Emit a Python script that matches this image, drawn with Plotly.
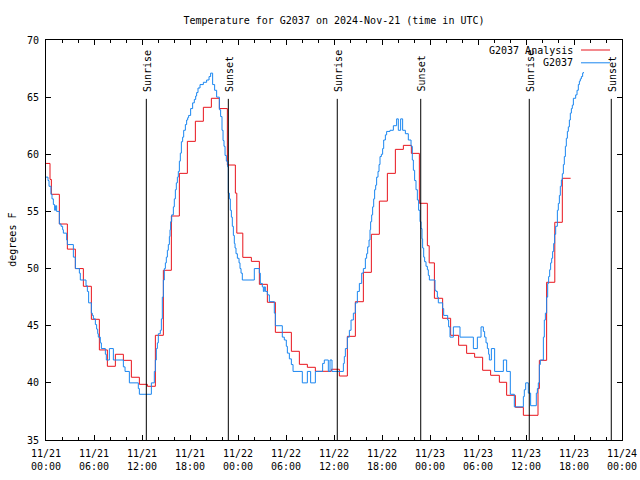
import pandas as pd
import plotly.graph_objects as go

# ---- data (hours since 2024-11-21 00:00 UTC, temperature in deg F) ----
base = pd.Timestamp("2024-11-21 00:00")

obs_hours = [0.0, 0.25, 0.38, 0.62, 0.75, 0.92, 1.08, 1.2, 1.33, 1.67, 1.88, 2.08, 2.17, 2.58, 2.67,
             3.42, 3.67, 4.17, 4.29, 5.0, 5.17, 5.33, 5.67, 5.79, 5.92, 6.17, 6.33, 6.46, 6.54, 6.79,
             6.92, 7.42, 7.54, 7.92, 8.42, 9.67, 9.88, 10.42, 11.54, 11.67, 13.17, 13.54, 13.67, 13.79,
             13.92, 14.04, 14.29, 14.42, 14.54, 14.67, 14.79, 14.92, 15.04, 15.17, 15.29, 15.42, 15.5,
             15.58, 15.71, 15.92, 16.04, 16.17, 16.29, 16.42, 16.54, 16.67, 16.79, 16.92, 17.08, 17.21,
             17.42, 17.58, 17.71, 17.83, 18.08, 18.33, 18.54, 18.71, 18.83, 19.0, 19.25, 19.67, 20.08,
             20.38, 20.58, 20.83, 21.08, 21.33, 21.67, 21.83, 22.0, 22.13, 22.25, 22.38, 22.54, 22.71,
             22.79, 22.92, 23.04, 23.17, 23.29, 23.42, 23.54, 23.63, 23.75, 23.92, 24.13, 24.25, 24.38,
             24.54, 26.04, 26.67, 26.79, 27.04, 27.17, 27.29, 27.42, 27.67, 27.92, 28.54, 28.67, 29.54,
             29.79, 30.04, 30.17, 30.42, 30.67, 30.88, 32.04, 32.67, 33.08, 33.67, 34.58, 34.79, 35.29,
             35.5, 35.75, 37.17, 37.29, 37.42, 37.67, 37.92, 38.13, 38.42, 38.67, 38.92, 39.17, 39.46,
             39.67, 39.92, 40.08, 40.21, 40.38, 40.5, 40.58, 40.71, 40.83, 40.96, 41.08, 41.21, 41.33,
             41.5, 41.63, 41.75, 41.92, 42.08, 42.21, 42.42, 42.58, 43.0, 43.42, 43.83, 44.04, 44.33,
             44.58, 44.92, 45.29, 45.63, 45.79, 45.92, 46.08, 46.25, 46.42, 46.58, 46.75, 46.88, 47.0,
             47.08, 47.21, 47.33, 47.5, 47.67, 47.79, 47.92, 48.63, 48.75, 48.92, 49.04, 49.58, 49.71,
             50.21, 50.33, 50.5, 50.92, 51.75, 53.42, 53.92, 54.38, 54.67, 54.83, 55.0, 55.17, 55.33,
             55.42, 55.67, 56.08, 57.17, 57.58, 58.04, 58.54, 59.67, 59.79, 59.96, 60.29, 60.58, 61.29,
             61.42, 61.54, 61.67, 61.79, 62.17, 62.29, 62.42, 62.58, 62.71, 62.83, 62.96, 63.08, 63.21,
             63.33, 63.46, 63.58, 63.71, 63.92, 64.04, 64.17, 64.29, 64.42, 64.54, 64.67, 64.79, 64.92,
             65.04, 65.17, 65.29, 65.42, 65.54, 65.67, 65.79, 65.92, 66.21, 66.38, 66.54, 66.67, 66.79,
             66.92, 67.08, 67.17]
obs_temps = [58.0, 57.7, 57.2, 56.5, 56.1, 55.6, 55.1, 55.5, 55.0, 53.9, 53.7, 53.4, 53.1, 52.5, 52.1,
             51.0, 50.0, 49.6, 49.0, 48.5, 48.0, 47.0, 46.1, 45.9, 45.6, 45.1, 44.7, 44.3, 44.0, 43.5,
             43.0, 42.5, 42.0, 43.0, 42.0, 41.4, 41.0, 40.0, 39.5, 39.0, 40.0, 41.0, 42.0, 43.0,
             43.5, 44.3, 44.6, 45.6, 47.5, 49.0, 50.0, 50.5, 51.0, 51.6, 52.1, 52.8, 53.4,
             54.1, 54.7, 55.4, 56.1, 56.9, 57.5, 58.0, 58.5, 59.4, 60.1, 61.1, 61.5, 62.1,
             62.6, 63.0, 63.2, 63.4, 64.0, 64.5, 64.8, 65.1, 65.4, 65.8, 66.1, 66.3, 66.5,
             66.8, 67.1, 66.1, 65.6, 65.0, 63.9, 63.3, 62.1, 61.2, 60.7, 59.9, 59.4, 58.9,
             56.6, 56.1, 55.1, 54.5, 53.7, 52.9, 52.2, 51.8, 51.3, 50.9, 50.5, 50.0, 49.6,
             49.0, 50.0, 49.6, 48.7, 48.4, 48.0, 48.4, 48.0, 47.7, 47.1, 46.1, 45.0, 44.0,
             43.75, 43.2, 42.6, 42.1, 41.6, 41.0, 40.0, 41.0, 40.0, 41.0, 41.7, 42.0, 41.0,
             42.0, 41.0, 41.7, 42.3, 43.0, 44.0, 44.6, 45.5, 46.1, 47.0, 48.0, 48.7, 49.6,
             50.0, 50.9, 51.3, 51.9, 52.5, 53.4, 54.1, 54.7, 55.4, 56.1, 56.9, 57.3, 58.0,
             58.5, 59.1, 59.8, 60.0, 60.5, 61.25, 61.7, 62.0, 62.1, 62.5, 63.1, 62.1, 63.1,
             62.1, 61.8, 61.25, 60.7, 59.5, 58.6, 57.7, 56.9, 56.0, 55.1, 54.1, 53.5, 52.6,
             51.8, 51.0, 50.6, 50.2, 49.9, 49.4, 49.0, 48.1, 48.0, 47.5, 47.0, 46.5, 45.9,
             45.5, 44.9, 44.0, 44.9, 44.0, 43.0, 44.0, 44.9, 44.5, 44.0, 43.5, 43.0, 42.5,
             42.0, 43.0, 41.0, 42.0, 41.0, 39.0, 37.9, 38.8, 39.4, 40.0, 39.1, 38.0, 39.1,
             39.5, 40.0, 41.6, 42.0, 44.0, 45.5, 46.1, 47.5, 48.7, 49.3, 49.9, 50.5, 50.9,
             51.5, 52.2, 53.0, 53.7, 55.1, 55.7, 56.4, 57.2, 57.75, 58.3, 59.1, 59.8, 60.7,
             61.4, 62.0, 62.4, 63.0, 63.6, 64.0, 64.3, 64.9, 65.2, 65.6, 66.1, 66.4, 66.6,
             66.8, 67.1, 67.2]

ana_hours = [0.0, 0.5, 0.67, 1.67, 2.67, 3.67, 4.67, 5.67, 6.67, 7.67, 8.67, 9.67, 10.67, 11.67,
             12.67, 13.67, 14.67, 15.67, 16.67, 17.67, 18.67, 19.67, 20.67, 21.67, 22.67, 23.67,
             23.85, 24.6, 25.67, 26.67, 27.67, 28.67, 30.67, 31.67, 32.67, 33.67, 35.67, 36.67,
             37.67, 38.67, 39.67, 40.67, 41.67, 42.67, 43.67, 44.67, 45.67, 46.67, 47.67, 47.9,
             48.55, 49.58, 50.58, 51.58, 52.58, 53.58, 54.58, 55.58, 56.67, 57.58, 58.67, 59.67,
             61.5, 61.67, 62.58, 63.6, 64.54, 65.58]
ana_temps = [59.2, 57.8, 56.5, 53.9, 51.7, 50.0, 48.45, 45.56, 42.88, 41.45, 42.5, 41.97, 40.49, 39.87,
             39.7, 44.16, 49.85, 54.6, 58.33, 61.13, 62.89, 64.11, 64.9, 64.0, 59.06, 56.6,
             53.1, 50.98, 50.63, 48.62, 47.05, 44.42, 42.76, 41.62, 41.36, 41.01, 41.19, 40.6,
             44.07, 47.1, 49.67, 53.0, 55.9, 58.33, 60.43, 60.78, 60.08, 55.71, 52.0, 50.5,
             47.4, 45.65, 44.16, 43.29, 42.58, 42.24, 41.1, 40.66, 40.05, 38.91, 37.86, 37.16,
             39.5, 41.97, 48.8, 54.05, 57.9, 57.9]

sun_hours = [12.54, 22.79, 36.41, 46.84, 60.41, 70.66]
sun_labels = ["Sunrise", "Sunset", "Sunrise", "Sunset", "Sunrise", "Sunset"]
sun_line_top = 64.85
sun_label_base = 65.3

tick_hours = [0, 6, 12, 18, 24, 30, 36, 42, 48, 54, 60, 66, 72]
tick_labels = ["11/21<br>00:00", "11/21<br>06:00", "11/21<br>12:00", "11/21<br>18:00",
               "11/22<br>00:00", "11/22<br>06:00", "11/22<br>12:00", "11/22<br>18:00",
               "11/23<br>00:00", "11/23<br>06:00", "11/23<br>12:00", "11/23<br>18:00",
               "11/24<br>00:00"]

series_names = ["G2037 Analysis", "G2037"]
title_text = "Temperature for G2037 on 2024-Nov-21 (time in UTC)"
y_label = "degrees F"

# ---- build ----
def to_time(hours):
    return [base + pd.Timedelta(hours=h) for h in hours]

FONT = "DejaVu Sans Mono"
RED = "#e8141c"
BLUE = "#1a86f0"

fig = go.Figure()
fig.add_trace(go.Scatter(x=to_time(ana_hours), y=ana_temps, mode="lines", line_shape="hv",
                         line=dict(color=RED, width=1), name=series_names[0], showlegend=False))
fig.add_trace(go.Scatter(x=to_time(obs_hours), y=obs_temps, mode="lines", line_shape="hv",
                         line=dict(color=BLUE, width=1), name=series_names[1], showlegend=False))

sx, sy = [], []
for t in to_time(sun_hours):
    sx += [t, t, None]
    sy += [35, sun_line_top, None]
fig.add_trace(go.Scatter(x=sx, y=sy, mode="lines", line=dict(color="black", width=1),
                         showlegend=False, hoverinfo="skip"))

for t, lab in zip(to_time(sun_hours), sun_labels):
    fig.add_annotation(x=t, y=sun_label_base, text=lab, showarrow=False, textangle=-90,
                       xanchor="center", yanchor="bottom", xshift=1,
                       font=dict(family=FONT, size=10, color="black"))

# legend (gnuplot style: text then sample)
leg_y = [0.975, 0.943]
for name, col, yy in zip(series_names, [RED, BLUE], leg_y):
    fig.add_annotation(xref="paper", yref="paper", x=0.9184, y=yy, text=name, showarrow=False,
                       xanchor="right", yanchor="middle", font=dict(family=FONT, size=10, color="black"))
    fig.add_shape(type="line", xref="paper", yref="paper", x0=0.9288, x1=0.9792, y0=yy, y1=yy,
                  line=dict(color=col, width=1))

fig.add_annotation(xref="paper", yref="paper", x=-0.0595, y=0.5, text=y_label, showarrow=False,
                   textangle=-90, xanchor="center", yanchor="middle",
                   font=dict(family=FONT, size=10, color="black"))

fig.update_layout(
    width=640, height=480,
    margin=dict(l=46, r=18, t=40, b=40, autoexpand=False),
    paper_bgcolor="white", plot_bgcolor="white",
    font=dict(family=FONT, size=10, color="black"),
    title=dict(text=title_text, x=0.5, xref="paper", xanchor="center",
               y=1 - 20 / 480, yref="container", yanchor="middle",
               font=dict(family=FONT, size=10, color="black")),
    xaxis=dict(type="date", range=[base, base + pd.Timedelta(hours=72)],
               tickmode="array", tickvals=to_time(tick_hours), ticktext=tick_labels,
               ticks="inside", ticklen=5, tickcolor="black", tickwidth=1,
               minor=dict(dtick=2 * 3600 * 1000, tick0=base, ticks="inside", ticklen=3,
                          tickcolor="black", showgrid=False),
               showline=True, linecolor="black", linewidth=1, mirror="allticks",
               showgrid=False, zeroline=False, automargin=False, ticklabelstandoff=4,
               tickfont=dict(family=FONT, size=10)),
    yaxis=dict(range=[35, 70], dtick=5, tick0=35, ticks="inside", ticklen=5, tickcolor="black",
               showline=True, linecolor="black", linewidth=1, mirror="allticks",
               showgrid=False, zeroline=False, ticklabelstandoff=4, automargin=False,
               tickfont=dict(family=FONT, size=10)),
)

fig.write_html("out.html", config={"displayModeBar": False, "staticPlot": True},
               post_script="document.body.style.margin='0';document.body.style.overflow='hidden';")
